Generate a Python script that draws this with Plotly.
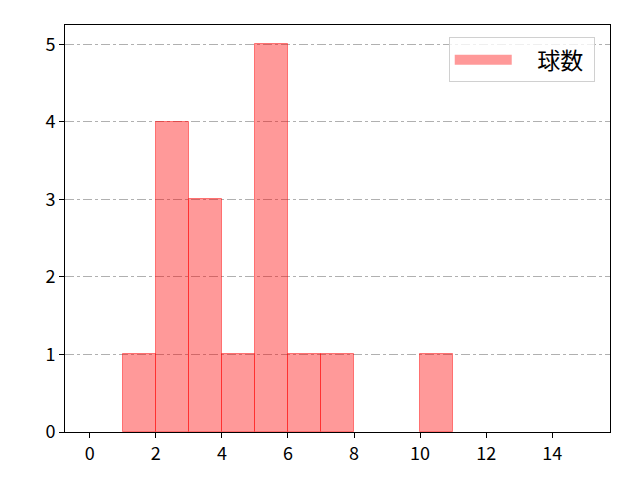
import plotly.graph_objects as go

# histogram bins (left edges) and counts
bin_left = [1, 2, 3, 4, 5, 6, 7, 8, 9, 10]
counts = [1, 4, 3, 1, 5, 1, 1, 0, 0, 1]
bin_width = 1
x_ticks = [0, 2, 4, 6, 8, 10, 12, 14]
y_ticks = [0, 1, 2, 3, 4, 5]

# skip empty bins so no flat outline is drawn at zero
xs = [b + bin_width / 2 for b, c in zip(bin_left, counts) if c > 0]
ys = [c for c in counts if c > 0]

fill = "rgba(255,0,0,0.4)"

fig = go.Figure()
fig.add_trace(go.Bar(
    x=xs,
    y=ys,
    width=[bin_width] * len(xs),
    name="球数",
    marker=dict(color=fill, line=dict(color="rgba(255,0,0,0.45)", width=1)),
    showlegend=False,
))
# legend entry drawn as a wide patch; nbsp pad the gap around the label
fig.add_trace(go.Scatter(
    x=[None], y=[None], mode="lines", name="\u00a0\u00a0\u00a0\u00a0球数\u00a0",
    line=dict(color=fill, width=18),
))

fig.update_layout(
    width=640, height=480,
    margin=dict(l=57, r=38, t=17, b=56),
    paper_bgcolor="white",
    plot_bgcolor="white",
    font=dict(family="Noto Sans CJK JP", size=18, color="black"),
    bargap=0,
    legend=dict(
        x=0.972, y=0.97, xanchor="right", yanchor="top",
        bordercolor="#d0d0d0", borderwidth=1,
        bgcolor="rgba(255,255,255,0.8)",
        font=dict(size=23),
        itemwidth=57,
    ),
)
fig.update_xaxes(
    range=[-0.75, 15.75],
    tickvals=x_ticks,
    ticks="outside", ticklen=5, tickcolor="black",
    showline=True, linecolor="black", linewidth=1, mirror=True,
    showgrid=False, zeroline=False,
    tickfont=dict(size=18),
)
fig.update_yaxes(
    range=[0, 5.25],
    tickvals=y_ticks,
    ticks="outside", ticklen=5, tickcolor="black",
    showline=True, linecolor="black", linewidth=1, mirror=True,
    showgrid=True, gridcolor="#b0b0b0", griddash="dashdot", gridwidth=1,
    zeroline=False,
    tickfont=dict(size=18),
)

fig.write_html("out.html")
